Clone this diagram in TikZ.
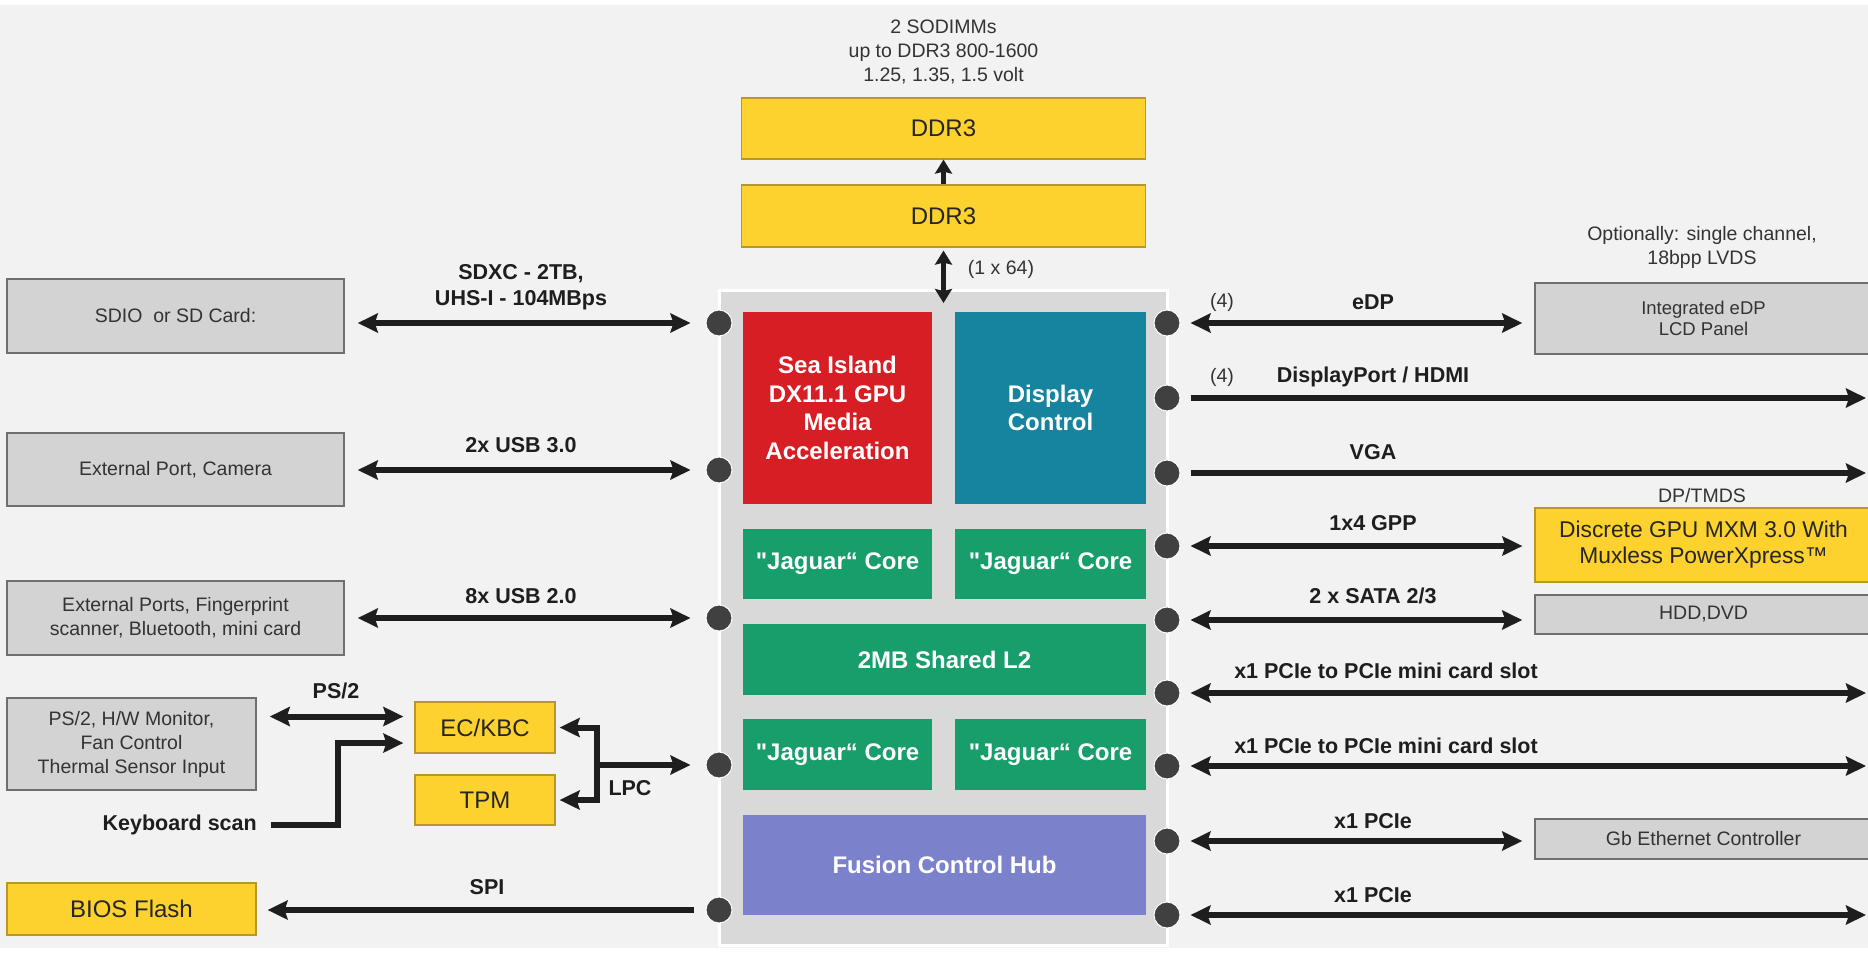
\documentclass[tikz,border=0pt]{standalone}
\usepackage{fontspec}
\setmainfont{Liberation Sans}[Ligatures=TeXOff]
\usetikzlibrary{arrows.meta}

\definecolor{bgc}{HTML}{F2F2F2}
\definecolor{chipc}{HTML}{D9D9D9}
\definecolor{arrowc}{HTML}{1E1E1E}
\definecolor{dotc}{HTML}{404040}
\definecolor{txtc}{HTML}{333333}
\definecolor{boxfill}{HTML}{D3D3D3}
\definecolor{boxline}{HTML}{6F6F6F}
\definecolor{ylwfill}{HTML}{FDD22E}
\definecolor{ylwline}{HTML}{B8982A}
\definecolor{gpured}{HTML}{D81E25}
\definecolor{dispteal}{HTML}{17849F}
\definecolor{coregreen}{HTML}{189E6B}
\definecolor{fchblue}{HTML}{7B82CB}

\newcommand{\jaguar}{\symbol{34}Jaguar“ Core}

\tikzset{
  graybox/.style={draw=boxline, fill=boxfill, line width=1.5pt, inner sep=0pt,
    text=txtc, align=center, font=\fontsize{19.5}{24}\selectfont},
  ylwbox/.style={draw=ylwline, fill=ylwfill, line width=1.2pt, inner sep=0pt,
    text=black!85, align=center, font=\fontsize{24}{28}\selectfont},
  block/.style={inner sep=0pt, text=white, align=center,
    font=\bfseries\fontsize{24}{28.5}\selectfont},
  portdot/.style={circle, fill=dotc, draw=white!70!bgc, line width=1pt,
    minimum size=26pt, inner sep=0pt},
  note/.style={text=txtc, align=center, font=\fontsize{19.5}{23.5}\selectfont},
  lbl/.style={text=arrowc, align=center, font=\bfseries\fontsize{21.5}{26}\selectfont},
  link/.style={draw=arrowc, line width=6pt, >={Stealth[length=20pt,width=19pt,inset=3pt]}},
  vlink/.style={draw=arrowc, line width=5pt, >={Stealth[length=14pt,width=17pt,inset=2pt]}},
  lft/.style={shorten <=13pt, shorten >=15pt},
  rgt/.style={shorten <=10pt, shorten >=12pt},
}

\begin{document}
\begin{tikzpicture}[x=1pt,y=-1pt]
    \clip (0,0) rectangle (1868,956);
    \fill[white] (0,0) rectangle (1868,956);
    \fill[bgc] (0,5) rectangle (1868,948);

    % memory
    \node[note, font=\fontsize{19.5}{24}\selectfont] (simm) at (943.5,52) {2 SODIMMs\\up to DDR3 800-1600\\1.25, 1.35, 1.5 volt};
    \node[ylwbox, minimum width=404, minimum height=61] (ddra) at (943.5,128.5) {DDR3};
    \node[ylwbox, minimum width=404, minimum height=62] (ddrb) at (943.5,216) {DDR3};

    % the chip
    \node[draw=white, fill=chipc, line width=3pt, minimum width=448, minimum height=655, inner sep=0pt] (apu) at (943,617.5) {};
    \node[block, fill=gpured, minimum width=189, minimum height=192] (gpu) at (837.5,408) {Sea Island\\DX11.1 GPU\\Media\\Acceleration};
    \node[block, fill=dispteal, minimum width=191, minimum height=192] (disp) at (1050.5,408) {Display\\Control};
    \node[block, fill=coregreen, minimum width=189, minimum height=70] (corea) at (837.5,564) {\jaguar};
    \node[block, fill=coregreen, minimum width=191, minimum height=70] (coreb) at (1050.5,564) {\jaguar};
    \node[block, fill=coregreen, minimum width=403, minimum height=71] (ltwo) at (944.5,659.5) {2MB Shared L2};
    \node[block, fill=coregreen, minimum width=189, minimum height=71] (corec) at (837.5,754.5) {\jaguar};
    \node[block, fill=coregreen, minimum width=191, minimum height=71] (cored) at (1050.5,754.5) {\jaguar};
    \node[block, fill=fchblue, minimum width=403, minimum height=100] (fch) at (944.5,865) {Fusion Control Hub};

    % ports on the chip
    \node[portdot] (l1) at (719,323) {};
    \node[portdot] (l2) at (719,470) {};
    \node[portdot] (l3) at (719,618) {};
    \node[portdot] (l4) at (719,765) {};
    \node[portdot] (l5) at (719,910) {};
    \node[portdot] (r1) at (1167,323) {};
    \node[portdot] (r2) at (1167,398) {};
    \node[portdot] (r3) at (1167,473) {};
    \node[portdot] (r4) at (1167,546) {};
    \node[portdot] (r5) at (1167,620) {};
    \node[portdot] (r6) at (1167,693) {};
    \node[portdot] (r7) at (1167,766) {};
    \node[portdot] (r8) at (1167,841) {};
    \node[portdot] (r9) at (1167,915) {};

    % left side devices
    \node[graybox, minimum width=337, minimum height=74] (sdio) at (175.5,316) {SDIO\ \ or SD Card:};
    \node[graybox, minimum width=337, minimum height=73] (extcam) at (175.5,469.5) {External Port, Camera};
    \node[graybox, minimum width=337, minimum height=74] (extports) at (175.5,618) {External Ports, Fingerprint\\scanner, Bluetooth, mini card};
    \node[graybox, minimum width=249, minimum height=92] (ps2dev) at (131.5,744) {PS/2, H/W Monitor,\\Fan Control\\Thermal Sensor Input};
    \node[ylwbox, minimum width=249, minimum height=52] (bios) at (131.5,909) {BIOS Flash};
    \node[ylwbox, minimum width=140, minimum height=51] (ec) at (485,727.5) {EC/KBC};
    \node[ylwbox, minimum width=140, minimum height=50] (tpm) at (485,800) {TPM};
    \node[lbl, anchor=east, inner sep=0pt] (kbscan) at (257,825) {Keyboard scan};

    % right side devices
    \node[note] (lvds) at (1702,247.5) {Optionally: single channel,\\18bpp LVDS};
    \node[graybox, font=\fontsize{18.5}{20.5}\selectfont, minimum width=337, minimum height=71] (panel) at (1703.5,318.5) {Integrated eDP\\LCD Panel};
    \node[note] (tmds) at (1702,496) {DP/TMDS};
    \node[ylwbox, font=\fontsize{22.8}{26}\selectfont, minimum width=337, minimum height=74] (dgpu) at (1703.5,545) {Discrete GPU MXM 3.0 With\\Muxless PowerXpress™};
    \node[graybox, minimum width=337, minimum height=39] (hdd) at (1703.5,614.5) {HDD,DVD};
    \node[graybox, minimum width=337, minimum height=40] (gbe) at (1703.5,839) {Gb Ethernet Controller};

    \coordinate (memport) at (943.5,303);
    \coordinate (e2) at (1866,398);
    \coordinate (e3) at (1866,473);
    \coordinate (e6) at (1866,693);
    \coordinate (e7) at (1866,766);
    \coordinate (e9) at (1866,915);

    % memory bus
    \draw[vlink,->] (ddrb.north) -- (ddra.south);
    \draw[vlink,<->,shorten <=3pt] (ddrb.south) -- (memport);
    \node[note] (bw) at (1001,269) {(1 x 64)};

    % left connections
    \draw[link,<->,lft] (sdio.east |- l1) -- (l1);
    \draw[link,<->,lft] (extcam.east |- l2) -- (l2);
    \draw[link,<->,lft] (extports.east |- l3) -- (l3);
    \draw[link,->,shorten <=12pt,shorten >=11pt] (l5) -- (bios.east |- l5);
    \node[lbl] (sdxc) at (521,287) {SDXC - 2TB,\\UHS-I - 104MBps};
    \node[lbl] (usbc) at (521,445) {2x USB 3.0};
    \node[lbl] (usbb) at (521,596) {8x USB 2.0};
    \node[lbl] (spi) at (487,887) {SPI};

    % embedded controller
    \draw[link,<->,shorten <=11pt,shorten >=13pt] ([yshift=11pt]ec.west) -- ([yshift=11pt]ec.west -| ps2dev.east);
    \draw[link,->,shorten <=14pt,shorten >=11pt] (kbscan.east) -- ++(81,0) |- ([yshift=-15.5pt]ec.west);
    \draw[link,<->,shorten <=4pt,shorten >=4pt] (ec.east) -- ++(41,0) coordinate (lpcbus) |- (tpm.east);
    \draw[link,->,shorten >=15pt] (lpcbus |- l4) -- (l4);
    \node[lbl] (ps2) at (336,691) {PS/2};
    \node[lbl] (lpc) at (630,788) {LPC};

    % right connections
    \draw[link,<->,rgt] (r1) -- (panel.west |- r1);
    \draw[link,->,shorten <=10pt] (r2) -- (e2);
    \draw[link,->,shorten <=10pt] (r3) -- (e3);
    \draw[link,<->,rgt] (r4) -- (dgpu.west |- r4);
    \draw[link,<->,rgt] (r5) -- (hdd.west |- r5);
    \draw[link,<->,shorten <=10pt] (r6) -- (e6);
    \draw[link,<->,shorten <=10pt] (r7) -- (e7);
    \draw[link,<->,rgt] (r8) -- (gbe.west |- r8);
    \draw[link,<->,shorten <=10pt] (r9) -- (e9);

    \node[note] (lanea) at (1222,302) {(4)};
    \node[lbl] (edp) at (1373,302) {eDP};
    \node[note] (laneb) at (1222,377) {(4)};
    \node[lbl] (dphdmi) at (1373,377) {DisplayPort / HDMI};
    \node[lbl] (vga) at (1373,452) {VGA};
    \node[lbl] (gpp) at (1373,523) {1x4 GPP};
    \node[lbl] (sata) at (1373,596) {2 x SATA 2/3};
    \node[lbl] (minia) at (1386,671) {x1 PCIe to PCIe mini card slot};
    \node[lbl] (minib) at (1386,746) {x1 PCIe to PCIe mini card slot};
    \node[lbl] (pciea) at (1373,821) {x1 PCIe};
    \node[lbl] (pcieb) at (1373,895) {x1 PCIe};
\end{tikzpicture}
\end{document}
